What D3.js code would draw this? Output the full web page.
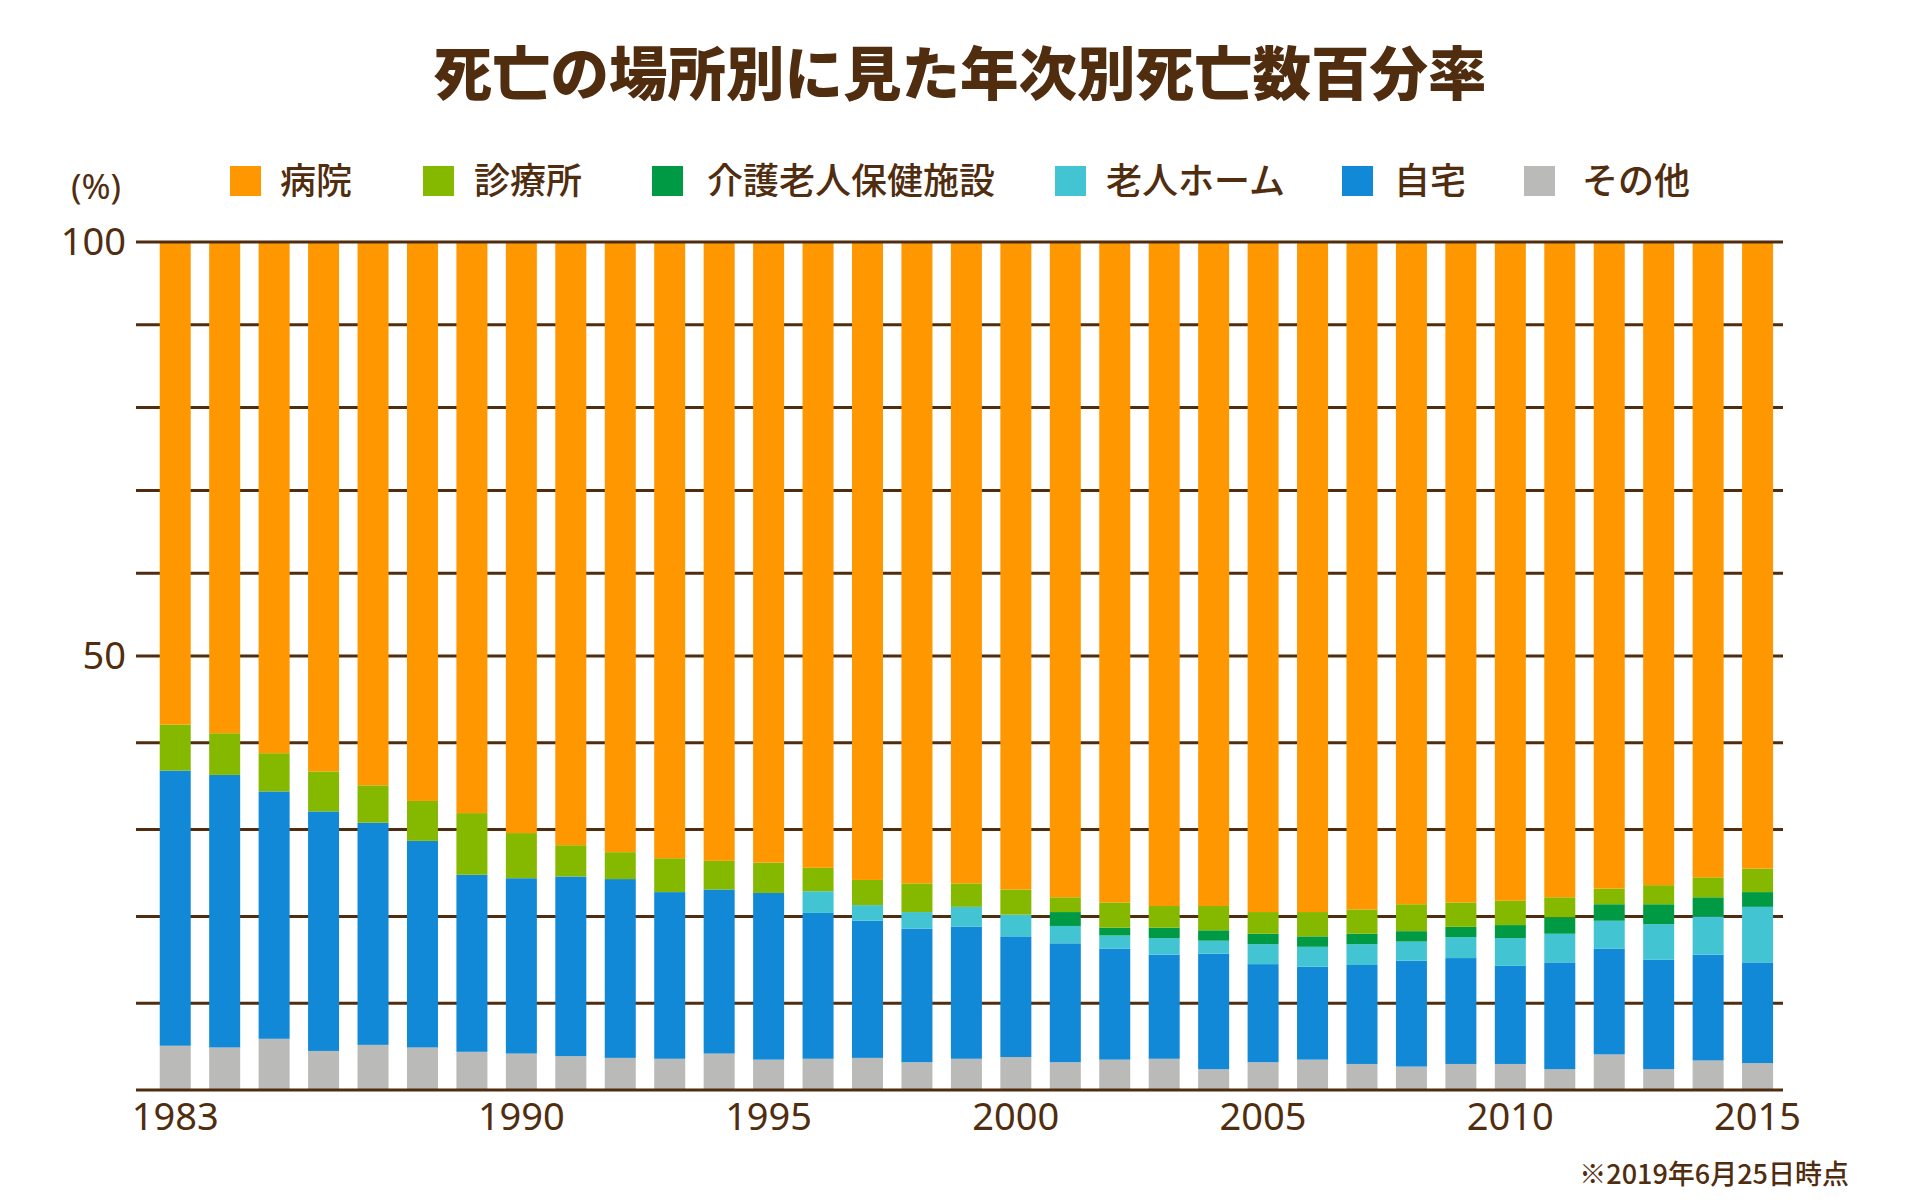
<!DOCTYPE html>
<html>
<head>
<meta charset="utf-8">
<script src="https://cdn.jsdelivr.net/npm/d3@7"></script>
<style>
  html, body { margin: 0; padding: 0; background: #ffffff; }
  svg { display: block; }
</style>
</head>
<body>
<svg id="chart" width="1920" height="1200"></svg>
<script>
// ---------------- data ----------------
const years = ['1983','1984','1985','1986','1987','1988','1989','1990','1991','1992','1993','1994','1995','1996','1997','1998','1999','2000','2001','2002','2003','2004','2005','2006','2007','2008','2009','2010','2011','2012','2013','2014','2015'];
const xTickLabels = ['1983','1990','1995','2000','2005','2010','2015'];
const yTickLabels = [50, 100];
const yGridValues = [0,10,20,30,40,50,60,70,80,90,100];

const seriesNames = ['病院','診療所','介護老人保健施設','老人ホーム','自宅','その他'];
const hospital    = [57.9,58.9,61.2,63.3,64.9,66.7,68.1,70.4,71.8,72.6,73.3,73.6,73.8,74.4,75.8,76.2,76.2,76.9,77.8,78.4,78.8,78.8,79.5,79.5,79.2,78.6,78.4,78.2,77.8,76.8,76.4,75.5,74.5];
const clinic      = [5.3,4.8,4.4,4.6,4.3,4.6,7.1,5.2,3.6,3.1,3.9,3.3,3.5,2.7,2.9,3.3,2.7,2.9,1.7,2.9,2.5,2.8,2.5,2.8,2.8,3.1,2.8,2.8,2.3,1.8,2.2,2.3,2.7];
const careFacility= [0,0,0,0,0,0,0,0,0,0,0,0,0,0,0,0,0,0,1.6,0.9,1.2,1.2,1.2,1.2,1.2,1.2,1.2,1.5,1.9,1.9,2.3,2.2,1.7];
const nursingHome = [0,0,0,0,0,0,0,0,0,0,0,0,0,2.5,1.8,1.9,2.3,2.5,2.0,1.5,1.9,1.5,2.3,2.3,2.4,2.2,2.4,3.2,3.3,3.2,4.1,4.4,6.4];
const home        = [31.7,31.4,28.5,27.6,25.6,23.8,20.4,20.2,20.7,20.6,19.2,18.9,19.2,16.8,15.8,15.4,15.2,13.9,13.7,12.8,12.0,13.3,11.3,10.7,11.4,12.2,12.2,11.3,12.3,12.2,12.6,12.2,11.6];
const other       = [5.1,4.9,5.9,4.5,5.2,4.9,4.4,4.2,3.9,3.7,3.6,4.2,3.5,3.6,3.7,3.2,3.6,3.8,3.2,3.5,3.6,2.4,3.2,3.5,3.0,2.7,3.0,3.0,2.4,4.1,2.4,3.4,3.1];

const titleText = '死亡の場所別に見た年次別死亡数百分率';
const unitText = '(%)';
const noteText = '※2019年6月25日時点';

// ---------------- styles ----------------
const colors = {
  '病院': '#FF9800',
  '診療所': '#84B900',
  '介護老人保健施設': '#009A44',
  '老人ホーム': '#43C4D3',
  '自宅': '#1289D6',
  'その他': '#BABAB8'
};
const ink = '#512D10';
const cjk = '"Noto Sans CJK JP", "Noto Sans", sans-serif';
const latin = '"Noto Sans", "Open Sans", sans-serif';

// ---------------- build table ----------------
const table = years.map((yr, i) => ({
  year: yr,
  'その他': other[i],
  '自宅': home[i],
  '老人ホーム': nursingHome[i],
  '介護老人保健施設': careFacility[i],
  '診療所': clinic[i],
  '病院': hospital[i]
}));
const stackKeys = ['その他','自宅','老人ホーム','介護老人保健施設','診療所','病院'];
const stacked = d3.stack().keys(stackKeys)(table);

// ---------------- scales ----------------
const svg = d3.select('#chart');
const x = d3.scaleBand().domain(years).range([150.5, 1782.3]).paddingInner(0.373).paddingOuter(0.1865);
const y = d3.scaleLinear().domain([0, 50, 100]).range([1090, 656, 242]);
const gridX0 = 136, gridX1 = 1783;

// ---------------- title ----------------
svg.append('text')
  .attr('x', 960).attr('y', 95)
  .attr('text-anchor', 'middle')
  .attr('font-family', cjk).attr('font-weight', 900)
  .attr('font-size', 58.5)
  .attr('fill', ink)
  .text(titleText);

// ---------------- legend ----------------
const legendX = [230, 423, 652, 1055, 1342, 1524];
const legendTextGap = [50, 51, 55, 51, 52, 58];
const legend = svg.append('g');
seriesNames.forEach((name, i) => {
  legend.append('rect')
    .attr('x', legendX[i]).attr('y', 166)
    .attr('width', 31).attr('height', 30)
    .attr('fill', colors[name]);
  legend.append('text')
    .attr('x', legendX[i] + legendTextGap[i]).attr('y', 194)
    .attr('font-family', cjk).attr('font-weight', 500)
    .attr('font-size', 36)
    .attr('fill', ink)
    .text(name);
});

// ---------------- grid (behind bars) ----------------
svg.append('g').selectAll('line')
  .data(yGridValues.filter(v => v !== 0 && v !== 100))
  .join('line')
  .attr('x1', gridX0).attr('x2', gridX1)
  .attr('y1', d => y(d)).attr('y2', d => y(d))
  .attr('stroke', ink).attr('stroke-width', 3);

// ---------------- bars ----------------
svg.append('g').selectAll('g')
  .data(stacked)
  .join('g')
  .attr('fill', d => colors[d.key])
  .selectAll('rect')
  .data(d => d)
  .join('rect')
  .attr('x', d => x(d.data.year))
  .attr('width', x.bandwidth())
  .attr('y', d => y(d[1]))
  .attr('height', d => Math.max(0, y(d[0]) - y(d[1])));

// ---------------- top & base lines (above bars) ----------------
svg.append('g').selectAll('line')
  .data([0, 100])
  .join('line')
  .attr('x1', gridX0).attr('x2', gridX1)
  .attr('y1', d => y(d)).attr('y2', d => y(d))
  .attr('stroke', ink).attr('stroke-width', 3);

// ---------------- y labels ----------------
svg.append('g').selectAll('text')
  .data(yTickLabels)
  .join('text')
  .attr('x', 126).attr('y', d => y(d) + 13)
  .attr('text-anchor', 'end')
  .attr('font-family', latin).attr('font-size', 38)
  .attr('fill', ink)
  .text(d => d);

svg.append('text')
  .attr('x', 96).attr('y', 199)
  .attr('text-anchor', 'middle')
  .attr('font-family', latin).attr('font-size', 35)
  .attr('fill', ink)
  .text(unitText);

// ---------------- x labels ----------------
svg.append('g').selectAll('text')
  .data(xTickLabels)
  .join('text')
  .attr('x', d => x(d) + x.bandwidth() / 2)
  .attr('y', 1130)
  .attr('text-anchor', 'middle')
  .attr('font-family', latin).attr('font-size', 38)
  .attr('fill', ink)
  .text(d => d);

// ---------------- footnote ----------------
svg.append('text')
  .attr('x', 1849).attr('y', 1184)
  .attr('text-anchor', 'end')
  .attr('font-family', cjk).attr('font-weight', 500)
  .attr('font-size', 27)
  .attr('fill', ink)
  .text(noteText);
</script>
</body>
</html>
